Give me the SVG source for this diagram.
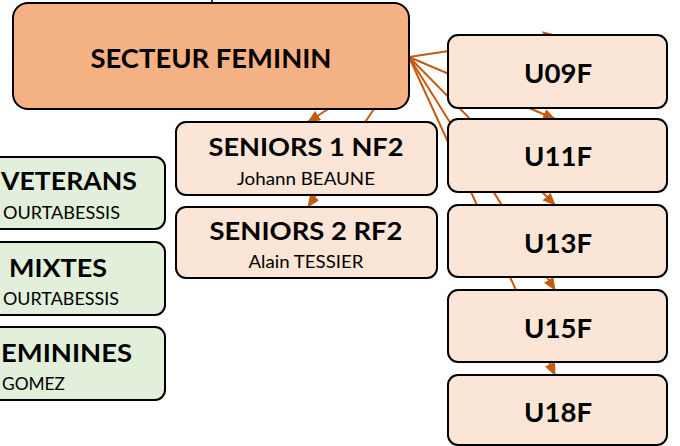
<svg xmlns="http://www.w3.org/2000/svg" width="680" height="446" viewBox="0 0 680 446">
<style>
.main{fill:#F4B183;stroke:#000;stroke-width:2}
.peach{fill:#FBE5D6;stroke:#000;stroke-width:2}
.green{fill:#E2EFDA;stroke:#000;stroke-width:2}
.t{font-family:Lato,"Open Sans","Liberation Sans",sans-serif;font-weight:bold;fill:#000}
.s{font-family:Lato,"Open Sans","Liberation Sans",sans-serif;font-weight:normal;fill:#000;font-size:17px}
.c{stroke:#C55A11;stroke-width:2;fill:none;marker-end:url(#arr)}
</style>
<defs>
<marker id="arr" markerUnits="userSpaceOnUse" markerWidth="13" markerHeight="11" refX="12" refY="5.5" orient="auto">
<path d="M0,0 L13,5.5 L0,11 z" fill="#C55A11"/>
</marker>
</defs>
<g id="connectors">
<line x1="212" y1="0" x2="212" y2="4" stroke="#000" stroke-width="1.5"/>
<line class="c" x1="409" y1="57" x2="555" y2="35"/>
<line class="c" x1="409" y1="57" x2="555" y2="119"/>
<line class="c" x1="409" y1="57" x2="555" y2="205"/>
<line class="c" x1="409" y1="57" x2="555" y2="290"/>
<line class="c" x1="409" y1="57" x2="555" y2="375"/>
<line class="c" x1="409" y1="57" x2="308" y2="122"/>
<line class="c" x1="409" y1="57" x2="308" y2="207"/>
</g>
<g id="secteur-feminin">
<rect class="main" x="13" y="3" width="396" height="106" rx="15"/>
<text class="t" x="211" y="68" font-size="27" text-anchor="middle" textLength="241" lengthAdjust="spacingAndGlyphs">SECTEUR FEMININ</text>
</g>
<g id="seniors1">
<rect class="peach" x="176" y="122" width="261" height="73" rx="10"/>
<text class="t" x="306" y="156" font-size="25" text-anchor="middle" textLength="195" lengthAdjust="spacingAndGlyphs">SENIORS 1 NF2</text>
<text class="s" x="306" y="185" text-anchor="middle" textLength="138" lengthAdjust="spacingAndGlyphs">Johann BEAUNE</text>
</g>
<g id="seniors2">
<rect class="peach" x="176" y="207" width="261" height="71" rx="10"/>
<text class="t" x="306" y="240" font-size="25" text-anchor="middle" textLength="193" lengthAdjust="spacingAndGlyphs">SENIORS 2 RF2</text>
<text class="s" x="306" y="268" text-anchor="middle" textLength="115" lengthAdjust="spacingAndGlyphs">Alain TESSIER</text>
</g>
<g id="veterans">
<rect class="green" x="-60" y="157" width="225" height="72" rx="10"/>
<text class="t" x="137" y="190" font-size="25" text-anchor="end" textLength="136" lengthAdjust="spacingAndGlyphs">VETERANS</text>
<text class="s" x="120" y="219" text-anchor="end" textLength="117" lengthAdjust="spacingAndGlyphs">OURTABESSIS</text>
</g>
<g id="mixtes">
<rect class="green" x="-60" y="242" width="225" height="73" rx="10"/>
<text class="t" x="58" y="277" font-size="25" text-anchor="middle" textLength="98" lengthAdjust="spacingAndGlyphs">MIXTES</text>
<text class="s" x="119" y="305" text-anchor="end" textLength="116" lengthAdjust="spacingAndGlyphs">OURTABESSIS</text>
</g>
<g id="feminines">
<rect class="green" x="-60" y="327" width="225" height="73" rx="10"/>
<text class="t" x="132" y="362" font-size="25" text-anchor="end" textLength="131" lengthAdjust="spacingAndGlyphs">EMININES</text>
<text class="s" x="2" y="390" textLength="63" lengthAdjust="spacingAndGlyphs">GOMEZ</text>
</g>
<g id="u09f">
<rect class="peach" x="448" y="35" width="219" height="73" rx="10"/>
<text class="t" x="558" y="83" font-size="27" text-anchor="middle" textLength="68" lengthAdjust="spacingAndGlyphs">U09F</text>
</g>
<g id="u11f">
<rect class="peach" x="448" y="119" width="219" height="73" rx="10"/>
<text class="t" x="558" y="166" font-size="27" text-anchor="middle" textLength="68" lengthAdjust="spacingAndGlyphs">U11F</text>
</g>
<g id="u13f">
<rect class="peach" x="448" y="205" width="219" height="72" rx="10"/>
<text class="t" x="558" y="253" font-size="27" text-anchor="middle" textLength="68" lengthAdjust="spacingAndGlyphs">U13F</text>
</g>
<g id="u15f">
<rect class="peach" x="448" y="290" width="219" height="72" rx="10"/>
<text class="t" x="558" y="338" font-size="27" text-anchor="middle" textLength="68" lengthAdjust="spacingAndGlyphs">U15F</text>
</g>
<g id="u18f">
<rect class="peach" x="448" y="375" width="219" height="70" rx="10"/>
<text class="t" x="558" y="422" font-size="27" text-anchor="middle" textLength="68" lengthAdjust="spacingAndGlyphs">U18F</text>
</g>
</svg>
